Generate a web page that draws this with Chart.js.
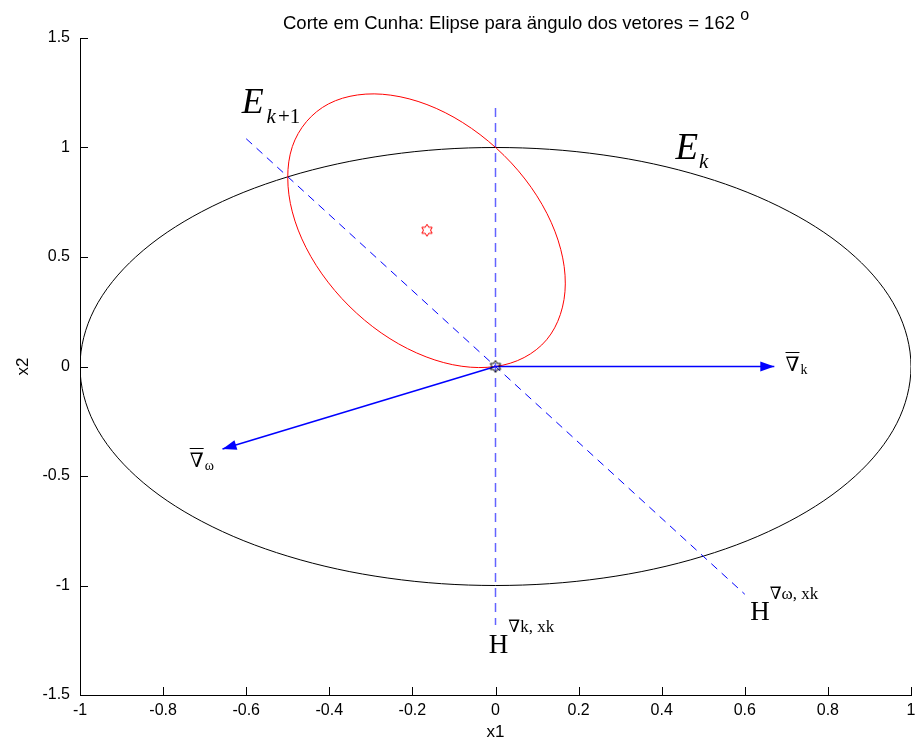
<!DOCTYPE html>
<html>
<head>
<meta charset="utf-8">
<script src="https://cdn.jsdelivr.net/npm/chart.js@4.4.1/dist/chart.umd.min.js"></script>
<style>
  body { margin: 0; background: #fff; }
  #wrap { width: 918px; height: 742px; }
</style>
</head>
<body>
<div id="wrap"><canvas id="cunha"></canvas></div>
<script>
// E_k: unit circle, read every 15 degrees
var ekX = [1, 0.966, 0.866, 0.707, 0.5, 0.259, 0, -0.259, -0.5, -0.707, -0.866, -0.966,
           -1, -0.966, -0.866, -0.707, -0.5, -0.259, 0, 0.259, 0.5, 0.707, 0.866, 0.966]
var ekY = [0, 0.259, 0.5, 0.707, 0.866, 0.966, 1, 0.966, 0.866, 0.707, 0.5, 0.259,
           0, -0.259, -0.5, -0.707, -0.866, -0.966, -1, -0.966, -0.866, -0.707, -0.5, -0.259]

// E_k+1: red ellipse outline
var ek1X = [-0.332, -0.252, -0.165, -0.079, 0.002, 0.071, 0.124, 0.157, 0.168, 0.156, 0.123, 0.069,
            0, -0.081, -0.167, -0.254, -0.334, -0.403, -0.456, -0.489, -0.500, -0.489, -0.455, -0.402]
var ek1Y = [1.240, 1.239, 1.196, 1.114, 0.997, 0.856, 0.698, 0.535, 0.377, 0.237, 0.122, 0.041,
            0, 0.001, 0.044, 0.127, 0.243, 0.385, 0.543, 0.706, 0.863, 1.004, 1.118, 1.199]

var centroNovo = [-0.165, 0.622]
var xk = [0, 0]
var gradK = [0.671, 0]
var gradW = [-0.657, -0.377]

// hiperplanos (segmentos tracejados)
var hK = [[0, 1.18], [0, -1.18]]
var hW = [[-0.6, 1.04], [0.6, -1.04]]

var xTicks = [-1, -0.8, -0.6, -0.4, -0.2, 0, 0.2, 0.4, 0.6, 0.8, 1]
var xTickLabels = ['-1', '-0.8', '-0.6', '-0.4', '-0.2', '0', '0.2', '0.4', '0.6', '0.8', '1']
var yTicks = [-1.5, -1, -0.5, 0, 0.5, 1, 1.5]
var yTickLabels = ['-1.5', '-1', '-0.5', '0', '0.5', '1', '1.5']

var sans = "'Liberation Sans', Arial, sans-serif"
var serif = "'Liberation Serif', 'DejaVu Serif', serif"

function pontos(xs, ys) {
    return xs.map(function (x, i) { return { x: x, y: ys[i] } })
}
// fecha a curva: repete vizinhos para a tangente sair certa no ponto inicial
function fechada(pts) {
    return [pts[pts.length - 1]].concat(pts, [pts[0], pts[1]])
}
function escondeBordas(n) {
    return function (c) {
        return (c.p0DataIndex === 0 || c.p1DataIndex === n - 1) ? 'rgba(0,0,0,0)' : undefined
    }
}

function hexagrama(cor) {
    var c = document.createElement('canvas')
    c.width = 14; c.height = 14
    var g = c.getContext('2d')
    g.strokeStyle = cor
    g.lineWidth = 1
    g.beginPath()
    for (var i = 0; i < 12; i++) {
        var r = (i % 2 === 0) ? 6 : 3.5
        var a = (-90 + i * 30) * Math.PI / 180
        var px = 7 + r * Math.cos(a), py = 7 + r * Math.sin(a)
        if (i === 0) g.moveTo(px, py); else g.lineTo(px, py)
    }
    g.closePath()
    g.stroke()
    return c
}

var curvaEk = fechada(pontos(ekX, ekY))
var curvaEk1 = fechada(pontos(ek1X, ek1Y))

function rich(ctx, x, y, parts) {
    var cx = x
    parts.forEach(function (p) {
        ctx.font = p.font
        ctx.fillText(p.t, cx + (p.dx || 0), y + (p.dy || 0))
        cx += ctx.measureText(p.t).width + (p.dx || 0)
    })
    return cx
}

var anotacoes = {
    id: 'anotacoes',
    afterDatasetsDraw: function (chart) {
        var ctx = chart.ctx
        // pontas das setas
        chart.data.datasets.forEach(function (ds, i) {
            if (!ds.seta) return
            var pts = chart.getDatasetMeta(i).data
            var a = pts[0], b = pts[pts.length - 1]
            var ang = Math.atan2(b.y - a.y, b.x - a.x)
            ctx.save()
            ctx.translate(b.x, b.y)
            ctx.rotate(ang)
            ctx.fillStyle = 'rgb(0,0,255)'
            ctx.beginPath()
            ctx.moveTo(0, 0)
            ctx.lineTo(-14, -5)
            ctx.lineTo(-14, 5)
            ctx.closePath()
            ctx.fill()
            ctx.restore()
        })
    },
    afterDraw: function (chart) {
        var ctx = chart.ctx
        var xs = chart.scales.x, ys = chart.scales.y
        var area = chart.chartArea
        ctx.save()
        // marcas dos eixos para dentro
        ctx.strokeStyle = '#000'
        ctx.lineWidth = 1
        ctx.beginPath()
        xs.ticks.forEach(function (t) {
            var px = Math.round(xs.getPixelForValue(t.value)) + 0.5
            ctx.moveTo(px, area.bottom)
            ctx.lineTo(px, area.bottom - 8)
        })
        ys.ticks.forEach(function (t) {
            var py = Math.round(ys.getPixelForValue(t.value)) + 0.5
            ctx.moveTo(area.left, py)
            ctx.lineTo(area.left + 8, py)
        })
        ctx.stroke()

        ctx.fillStyle = '#000'
        ctx.textBaseline = 'alphabetic'
        ctx.textAlign = 'left'

        // titulo
        rich(ctx, 283, 29, [
            { t: 'Corte em Cunha: Elipse para ängulo dos vetores = 162 ', font: '18.5px ' + sans },
            { t: 'o', font: '16px ' + sans, dy: -9 }
        ])

        // rotulos dos eixos
        ctx.font = '17px ' + sans
        ctx.textAlign = 'center'
        ctx.fillText('x1', (area.left + area.right) / 2, 737)
        ctx.save()
        ctx.translate(28, (area.top + area.bottom) / 2)
        ctx.rotate(-Math.PI / 2)
        ctx.fillText('x2', 0, 0)
        ctx.restore()
        ctx.textAlign = 'left'

        function P(x, y) { return [xs.getPixelForValue(x), ys.getPixelForValue(y)] }

        // E_{k+1}
        var p = P(-0.611, 1.157)
        rich(ctx, p[0], p[1], [
            { t: 'E', font: 'italic 36px ' + serif },
            { t: 'k', font: 'italic 21px ' + serif, dx: 3, dy: 10 },
            { t: '+1', font: '21px ' + serif, dx: 2, dy: 10 }
        ])
        // E_k
        p = P(0.433, 0.947)
        rich(ctx, p[0], p[1], [
            { t: 'E', font: 'italic 37px ' + serif },
            { t: 'k', font: 'italic 21px ' + serif, dx: 1, dy: 9 }
        ])

        // gradientes com barra
        function nabla(x, y, sub) {
            var q = P(x, y)
            ctx.font = '20px ' + serif
            var w = ctx.measureText('\u2207').width
            rich(ctx, q[0], q[1], [
                { t: '\u2207', font: '20px ' + serif },
                { t: sub, font: '14px ' + serif, dx: 1, dy: 3 }
            ])
            ctx.beginPath()
            ctx.moveTo(q[0], Math.round(q[1] - 19) + 0.5)
            ctx.lineTo(q[0] + w, Math.round(q[1] - 19) + 0.5)
            ctx.stroke()
        }
        nabla(0.698, -0.02, 'k')
        nabla(-0.736, -0.459, '\u03c9')

        // hiperplanos
        p = P(-0.016, -1.308)
        rich(ctx, p[0], p[1], [
            { t: 'H', font: '27px ' + serif },
            { t: '\u2207k, xk', font: '17px ' + serif, dy: -21 }
        ])
        p = P(0.613, -1.158)
        rich(ctx, p[0], p[1], [
            { t: 'H', font: '27px ' + serif },
            { t: '\u2207\u03c9, xk', font: '17px ' + serif, dy: -21 }
        ])
        ctx.restore()
    }
}

var ctxCunha = document.getElementById('cunha')

var chartCunha = new Chart(ctxCunha, {
    type: 'scatter',
    data: {
        datasets: [
            {
                label: 'xk',
                data: [{ x: xk[0], y: xk[1] }],
                pointStyle: hexagrama('#000'),
                pointRadius: 6,
                showLine: false
            },
            {
                label: 'centro E_k+1',
                data: [{ x: centroNovo[0], y: centroNovo[1] }],
                pointStyle: hexagrama('rgb(255,0,0)'),
                pointRadius: 6,
                showLine: false
            },
            {
                label: 'grad k',
                seta: true,
                data: [{ x: xk[0], y: xk[1] }, { x: gradK[0], y: gradK[1] }],
                showLine: true,
                borderColor: 'rgb(0,0,255)',
                borderWidth: 1.5,
                pointRadius: 0
            },
            {
                label: 'grad w',
                seta: true,
                data: [{ x: xk[0], y: xk[1] }, { x: gradW[0], y: gradW[1] }],
                showLine: true,
                borderColor: 'rgb(0,0,255)',
                borderWidth: 1.5,
                pointRadius: 0
            },
            {
                label: 'E_k+1',
                data: curvaEk1,
                showLine: true,
                tension: 0.34,
                capBezierPoints: false,
                borderColor: 'rgb(255,0,0)',
                borderWidth: 1,
                pointRadius: 0,
                segment: { borderColor: escondeBordas(curvaEk1.length) }
            },
            {
                label: 'H grad k',
                data: hK.map(function (q) { return { x: q[0], y: q[1] } }),
                showLine: true,
                borderColor: 'rgba(60,60,255,0.8)',
                borderWidth: 1.5,
                borderDash: [9, 6],
                pointRadius: 0
            },
            {
                label: 'H grad w',
                data: hW.map(function (q) { return { x: q[0], y: q[1] } }),
                showLine: true,
                borderColor: 'rgb(0,0,255)',
                borderWidth: 1,
                borderDash: [8, 6],
                pointRadius: 0
            },
            {
                label: 'E_k',
                data: curvaEk,
                showLine: true,
                tension: 0.34,
                capBezierPoints: false,
                borderColor: '#000',
                borderWidth: 1,
                pointRadius: 0,
                segment: { borderColor: escondeBordas(curvaEk.length) }
            }
        ]
    },
    options: {
        responsive: true,
        maintainAspectRatio: false,
        animation: false,
        events: [],
        layout: { padding: { top: 38, right: 5, left: 0, bottom: 0 } },
        plugins: {
            legend: { display: false },
            title: { display: false },
            tooltip: { enabled: false }
        },
        scales: {
            x: {
                type: 'linear',
                min: -1,
                max: 1,
                afterBuildTicks: function (s) { s.ticks = xTicks.map(function (v) { return { value: v } }) },
                afterFit: function (s) { s.height = 47; s.paddingLeft = 0; s.paddingRight = 0 },
                grid: { display: false, drawTicks: false },
                border: { display: true, color: '#000', width: 1 },
                ticks: {
                    color: '#000',
                    padding: 6,
                    maxRotation: 0,
                    autoSkip: false,
                    font: { family: sans, size: 16 },
                    callback: function (v, i) { return xTickLabels[i] }
                }
            },
            y: {
                type: 'linear',
                min: -1.5,
                max: 1.5,
                afterBuildTicks: function (s) { s.ticks = yTicks.map(function (v) { return { value: v } }) },
                afterFit: function (s) { s.width = 80; s.paddingTop = 0; s.paddingBottom = 0 },
                grid: { display: false, drawTicks: false },
                border: { display: true, color: '#000', width: 1 },
                ticks: {
                    color: '#000',
                    padding: 10,
                    autoSkip: false,
                    font: { family: sans, size: 16 },
                    callback: function (v, i) { return yTickLabels[i] }
                }
            }
        }
    },
    plugins: [anotacoes]
})
</script>
</body>
</html>
